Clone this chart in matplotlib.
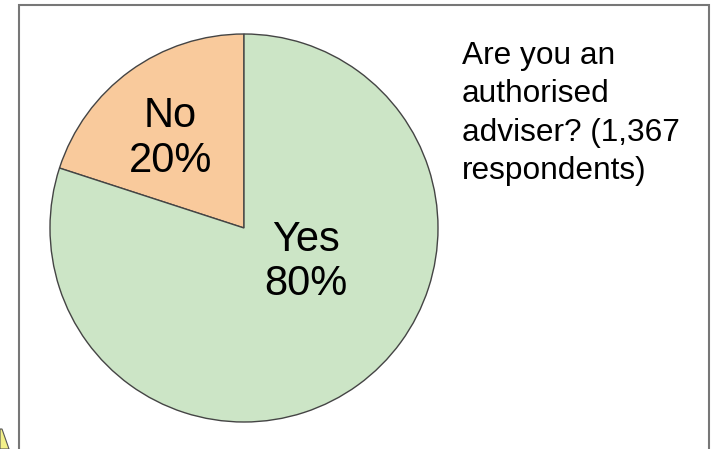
import matplotlib
matplotlib.use("Agg")
import matplotlib.pyplot as plt
from matplotlib.patches import Rectangle, Polygon

plt.rcParams['font.family'] = ['Liberation Sans', 'DejaVu Sans']

labels = ["No", "Yes"]
shares = [20, 80]
colors = ["#f9ca9c", "#cce5c6"]
title = "Are you an\nauthorised\nadviser? (1,367\nrespondents)"

W, H = 711, 449
fig = plt.figure(figsize=(W / 100, H / 100), dpi=100)

# pie centre and radius in pixels
cx, cy, r = 244, 228, 194
ax = fig.add_axes([(cx - r) / W, (H - cy - r) / H, 2 * r / W, 2 * r / H])
ax.pie(shares, colors=colors, startangle=90, counterclock=True,
       wedgeprops=dict(edgecolor="#444444", linewidth=1.0))
ax.set_xlim(-1, 1)
ax.set_ylim(-1, 1)
ax.axis("off")

# label positions (fraction of radius)
label_pos = [(-0.38, 0.46), (0.32, -0.175)]
for lab, pct, (x, y) in zip(labels, shares, label_pos):
    ax.text(x, y, f"{lab}\n{pct}%", ha="center", va="center",
            fontsize=30, linespacing=1.15, color="black")

fig.text(462 / W, 1 - 41 / H, title, ha="left", va="top",
         fontsize=22.8, linespacing=1.36, color="black")

# frame around the chart
fig.patches.append(Rectangle((19 / W, -0.05), (709 - 19) / W, (H - 5) / H + 0.05,
                             transform=fig.transFigure, fill=False,
                             edgecolor="#777777", linewidth=1.5))
# small yellow shape in the corner
fig.patches.append(Polygon([(0, 0), (0, 20 / H), (2 / W, 20 / H), (9 / W, 0)],
                           closed=True, transform=fig.transFigure,
                           facecolor="#f3f08a", edgecolor="#555555", linewidth=0.8))

fig.savefig("out.png", dpi=100)
